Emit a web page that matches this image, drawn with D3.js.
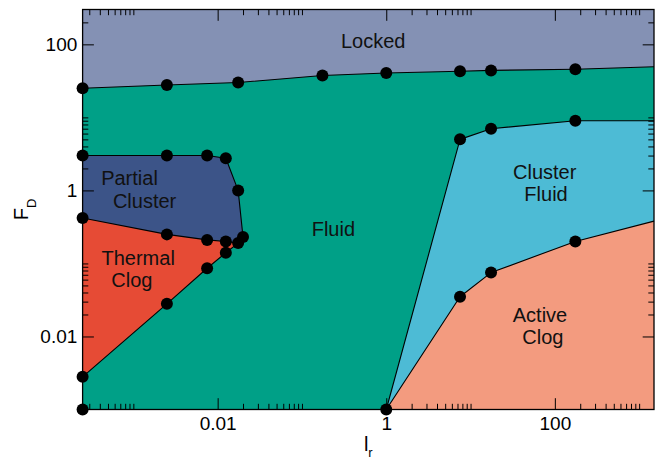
<!DOCTYPE html>
<html>
<head>
<meta charset="utf-8">
<script src="https://cdn.jsdelivr.net/npm/d3@7"></script>
<style>
  html, body { margin: 0; padding: 0; background: #fff; }
  svg { display: block; font-family: "Liberation Sans", Arial, Helvetica, sans-serif; }
</style>
</head>
<body>
<svg id="chart" width="662" height="458"></svg>
<script>
// ---- axis extents and ticks ----
const xDomain = [0.00025, 1500];
const yDomain = [0.001, 300];
const xTickValues = [0.01, 1, 100];
const xTickLabels = ["0.01", "1", "100"];
const yTickValues = [0.01, 1, 100];
const yTickLabels = ["0.01", "1", "100"];

// ---- phase boundaries (l_r, F_D) ----
// Locked / Fluid
const lockedX = [0.00025, 0.0025, 0.0175, 0.175, 1, 7.5, 17.5, 175];
const lockedY = [25, 27.8, 30, 37.5, 40.5, 42.8, 44, 45.5];
const lockedEdgeY = 49.4;          // where the boundary leaves the right edge

// Partial Cluster: upper and right side
const partialTopX = [0.00025, 0.0025, 0.0075, 0.0125, 0.0175, 0.02];
const partialTopY = [3, 3, 3, 2.75, 1, 0.23];

// Partial Cluster / Thermal Clog
const sharedX = [0.00025, 0.0025, 0.0075, 0.0125, 0.0175];
const sharedY = [0.42, 0.25, 0.21, 0.2, 0.19];

// Thermal Clog / Fluid
const thermalLowX = [0.00025, 0.0025, 0.0075, 0.0125];
const thermalLowY = [0.0028, 0.028, 0.086, 0.14];

// Cluster Fluid / Fluid
const clusterFluidX = [1, 7.5, 17.5, 175];
const clusterFluidY = [0.001, 5, 7, 9];
const clusterFluidEdgeY = 9;

// Active Clog / Cluster Fluid
const activeX = [1, 7.5, 17.5, 175];
const activeY = [0.001, 0.035, 0.075, 0.2];
const activeEdgeY = 0.38;

// extra measured state at the lowest drive
const cornerX = [0.00025];
const cornerY = [0.001];

// ---- region names ----
const labelText = ["Locked", "Partial", "Cluster", "Thermal", "Clog", "Fluid",
                   "Cluster", "Fluid", "Active", "Clog"];
const labelX = [0.70, 0.0009, 0.00136, 0.00114, 0.00096, 0.236, 75.8, 78.6, 66.7, 72];
const labelY = [90, 1.186, 0.579, 0.0953, 0.0483, 0.234, 1.42, 0.716, 0.0159, 0.00789];

const colors = {
  fluid: "#00A087",
  locked: "#8491B4",
  partial: "#3C5488",
  thermal: "#E64B35",
  clusterFluid: "#4DBBD5",
  active: "#F39B7F"
};

// ---- layout ----
const svg = d3.select("#chart");
const plotLeft = 82.6, plotRight = 654, plotTop = 9.5, plotBottom = 409.5;

const x = d3.scaleLog().domain(xDomain).range([plotLeft, plotRight]);
const y = d3.scaleLog().domain(yDomain).range([plotBottom, plotTop]);

const zip = (xs, ys) => xs.map((v, i) => [v, ys[i]]);
const line = d3.line().x(d => x(d[0])).y(d => y(d[1]));
const [xMin, xMax] = xDomain;
const [yMin, yMax] = yDomain;

const lockedPts = zip(lockedX, lockedY);
const partialPts = zip(partialTopX, partialTopY);
const sharedPts = zip(sharedX, sharedY);
const thermalPts = zip(thermalLowX, thermalLowY);
const cfPts = zip(clusterFluidX, clusterFluidY);
const acPts = zip(activeX, activeY);
const cornerPts = zip(cornerX, cornerY);

// ---- filled regions ----
const g = svg.append("g");
g.append("rect")
  .attr("x", x(xMin)).attr("y", y(yMax))
  .attr("width", x(xMax) - x(xMin)).attr("height", y(yMin) - y(yMax))
  .attr("fill", colors.fluid);

const regions = [
  { pts: [...lockedPts, [xMax, lockedEdgeY], [xMax, yMax], [xMin, yMax]], fill: colors.locked },
  { pts: [...cfPts, [xMax, clusterFluidEdgeY], [xMax, yMin]], fill: colors.clusterFluid },
  { pts: [...acPts, [xMax, activeEdgeY], [xMax, yMin]], fill: colors.active },
  { pts: [...partialPts, ...sharedPts.slice().reverse()], fill: colors.partial },
  { pts: [...sharedPts, ...thermalPts.slice().reverse()], fill: colors.thermal }
];
g.selectAll("path.region").data(regions).join("path")
  .attr("class", "region")
  .attr("d", d => line(d.pts) + "Z")
  .attr("fill", d => d.fill);

// ---- boundary lines ----
const boundaries = [
  [...lockedPts, [xMax, lockedEdgeY]],
  [...partialPts, ...sharedPts.slice().reverse()],
  [sharedPts[sharedPts.length - 1], ...thermalPts.slice().reverse()],
  [...cfPts, [xMax, clusterFluidEdgeY]],
  [...acPts, [xMax, activeEdgeY]]
];
g.selectAll("path.boundary").data(boundaries).join("path")
  .attr("class", "boundary")
  .attr("d", line)
  .attr("fill", "none")
  .attr("stroke", "#000")
  .attr("stroke-width", 1.1)
  .attr("stroke-linejoin", "round");

// ---- ticks (inward on all four sides) ----
function minorTicks(domain) {
  const out = [];
  [1e-4, 1e-2, 1, 1e2].forEach(m => {
    for (let k = 2; k <= 10; k++) {
      const v = m * k;
      if (v > domain[0] * 1.0001 && v < domain[1] * 0.9999) out.push(v);
    }
  });
  return out;
}
const xMinor = minorTicks(xDomain);
const yMinor = minorTicks(yDomain);
const majorLen = 11.3, minorLen = 5.7;

function styleAxis(sel) {
  sel.select(".domain").remove();
  sel.selectAll("line").attr("stroke", "#000").attr("stroke-width", 1);
  sel.selectAll("text").attr("font-size", 19).attr("fill", "#000")
     .attr("font-family", '"Liberation Sans", Arial, Helvetica, sans-serif');
}

// bottom
svg.append("g").attr("transform", `translate(0,${plotBottom})`)
  .call(d3.axisBottom(x).tickValues(xTickValues)
    .tickFormat((d, i) => xTickLabels[i]).tickSizeInner(-majorLen).tickSizeOuter(0).tickPadding(7))
  .call(styleAxis);
svg.append("g").attr("transform", `translate(0,${plotBottom})`)
  .call(d3.axisBottom(x).tickValues(xMinor).tickFormat("").tickSizeInner(-minorLen).tickSizeOuter(0))
  .call(styleAxis);
// top
svg.append("g").attr("transform", `translate(0,${plotTop})`)
  .call(d3.axisTop(x).tickValues(xTickValues).tickFormat("").tickSizeInner(-majorLen).tickSizeOuter(0))
  .call(styleAxis);
svg.append("g").attr("transform", `translate(0,${plotTop})`)
  .call(d3.axisTop(x).tickValues(xMinor).tickFormat("").tickSizeInner(-minorLen).tickSizeOuter(0))
  .call(styleAxis);
// left
svg.append("g").attr("transform", `translate(${plotLeft},0)`)
  .call(d3.axisLeft(y).tickValues(yTickValues)
    .tickFormat((d, i) => yTickLabels[i]).tickSizeInner(-majorLen).tickSizeOuter(0).tickPadding(5.3))
  .call(styleAxis);
svg.append("g").attr("transform", `translate(${plotLeft},0)`)
  .call(d3.axisLeft(y).tickValues(yMinor).tickFormat("").tickSizeInner(-minorLen).tickSizeOuter(0))
  .call(styleAxis);
// right
svg.append("g").attr("transform", `translate(${plotRight},0)`)
  .call(d3.axisRight(y).tickValues(yTickValues).tickFormat("").tickSizeInner(-majorLen).tickSizeOuter(0))
  .call(styleAxis);
svg.append("g").attr("transform", `translate(${plotRight},0)`)
  .call(d3.axisRight(y).tickValues(yMinor).tickFormat("").tickSizeInner(-minorLen).tickSizeOuter(0))
  .call(styleAxis);

// frame
svg.append("rect")
  .attr("x", plotLeft).attr("y", plotTop)
  .attr("width", plotRight - plotLeft).attr("height", plotBottom - plotTop)
  .attr("fill", "none").attr("stroke", "#000").attr("stroke-width", 1.3);

// ---- measured points ----
const markers = [...lockedPts, ...partialPts, ...sharedPts, ...thermalPts,
                 ...cornerPts, ...cfPts, ...acPts.slice(1)];
svg.append("g").selectAll("circle").data(markers).join("circle")
  .attr("cx", d => x(d[0])).attr("cy", d => y(d[1]))
  .attr("r", 6).attr("fill", "#000");

// ---- region labels ----
svg.append("g").selectAll("text").data(labelText).join("text")
  .attr("x", (d, i) => x(labelX[i]))
  .attr("y", (d, i) => y(labelY[i]))
  .attr("text-anchor", "middle")
  .attr("font-size", 20)
  .attr("fill", "#111")
  .text(d => d);

// ---- axis titles ----
const xt = svg.append("text")
  .attr("x", (plotLeft + plotRight) / 2).attr("y", 451)
  .attr("text-anchor", "middle").attr("font-size", 20).attr("fill", "#000");
xt.append("tspan").text("l");
xt.append("tspan").attr("dy", 5.5).attr("font-size", 13).text("r");

const yt = svg.append("text")
  .attr("transform", `translate(28.3,${(plotTop + plotBottom) / 2}) rotate(-90)`)
  .attr("text-anchor", "middle").attr("font-size", 20).attr("fill", "#000");
yt.append("tspan").text("F");
yt.append("tspan").attr("dy", 7.5).attr("font-size", 13).text("D");
</script>
</body>
</html>
